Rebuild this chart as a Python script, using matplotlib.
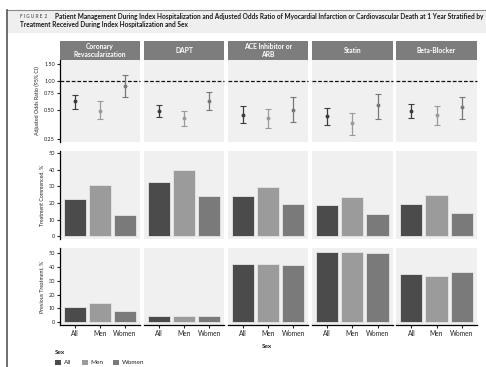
import matplotlib
matplotlib.use("Agg")
import matplotlib.pyplot as plt
from matplotlib.patches import Rectangle
from matplotlib.lines import Line2D

plt.rcParams["font.family"] = ["Lato", "DejaVu Sans"]

# ---- data -----------------------------------------------------------------
treatments = ["Coronary\nRevascularization", "DAPT", "ACE Inhibitor or\nARB",
              "Statin", "Beta-Blocker"]
sexes = ["All", "Men", "Women"]

# adjusted odds ratio (95% CI) of MI or CV death at 1 year
or_est = [[0.61, 0.49, 0.89], [0.49, 0.41, 0.62], [0.44, 0.41, 0.50],
          [0.43, 0.36, 0.56], [0.48, 0.44, 0.53]]
or_lo = [[0.51, 0.40, 0.68], [0.42, 0.34, 0.50], [0.36, 0.32, 0.37],
         [0.35, 0.27, 0.40], [0.41, 0.35, 0.40]]
or_hi = [[0.72, 0.62, 1.15], [0.56, 0.49, 0.76], [0.54, 0.51, 0.68],
         [0.52, 0.46, 0.73], [0.57, 0.55, 0.68]]

# treatment commenced during index hospitalization, %
commenced = [[22.4, 30.8, 12.8], [32.6, 39.8, 24.4], [24.4, 29.6, 19.2],
             [18.8, 23.4, 13.6], [19.6, 24.8, 14.0]]
# previous treatment, %
previous = [[11.0, 13.6, 8.4], [4.8, 4.7, 4.3], [41.6, 41.9, 41.0],
            [50.3, 50.7, 49.8], [34.5, 33.3, 35.9]]

or_ticks = [0.25, 0.50, 0.75, 1.00, 1.50]
pct_ticks = [0, 10, 20, 30, 40, 50]

# ---- styling --------------------------------------------------------------
bar_colors = ["#4b4b4b", "#9b9b9b", "#7a7a7a"]
err_colors = ["#3c3c3c", "#9a9a9a", "#787878"]
panel_bg = "#f0f0f0"
strip_bg = "#7d7d7d"

W, H = 486, 367
fig = plt.figure(figsize=(W / 100, H / 100), dpi=100)
fig.patch.set_facecolor("white")


def px_axes(x0, y0, x1, y1, **kw):
    return fig.add_axes([x0 / W, 1 - y1 / H, (x1 - x0) / W, (y1 - y0) / H], **kw)


# title band and left frame line
fig.add_artist(Rectangle((7 / W, 1 - 33 / H), (W - 7) / W, 23 / H,
                         transform=fig.transFigure, facecolor="#efefef",
                         edgecolor="none"))
fig.add_artist(Line2D([7 / W, 1], [1 - 10 / H, 1 - 10 / H],
                      transform=fig.transFigure, color="#8a8a8a", lw=0.8))
fig.add_artist(Line2D([7 / W, 7 / W], [0, 1 - 10 / H],
                      transform=fig.transFigure, color="#555555", lw=1.2))
fig.text(20 / W, 1 - 17 / H, "F I G U R E  2", fontsize=3.4, color="#666666",
         va="center", ha="left", fontweight="bold")
fig.text(55 / W, 1 - 17 / H,
         "Patient Management During Index Hospitalization and Adjusted Odds Ratio of "
         "Myocardial Infarction or Cardiovascular Death at 1 Year Stratified by",
         fontsize=4.7, color="#1a1a1a", va="center", ha="left", fontweight="bold")
fig.text(20 / W, 1 - 24.5 / H,
         "Treatment Received During Index Hospitalization and Sex",
         fontsize=4.7, color="#1a1a1a", va="center", ha="left", fontweight="bold")

col_left = 59.5
col_w = 80.5
col_step = 84.2
rows = [(60, 142), (151.5, 239), (248, 325)]
xpos = [0, 1, 2]

for i, name in enumerate(treatments):
    x0 = col_left + i * col_step
    x1 = x0 + col_w

    # strip header
    sax = px_axes(x0, 41, x1, 60)
    sax.set_facecolor(strip_bg)
    sax.set_xticks([]); sax.set_yticks([])
    for s in sax.spines.values():
        s.set_visible(False)
    sax.text(0.5, 0.5, name, ha="center", va="center", color="white",
             fontsize=4.9, fontweight="bold", linespacing=1.1,
             transform=sax.transAxes)

    # odds ratios
    ax = px_axes(x0, rows[0][0], x1, rows[0][1])
    ax.set_facecolor(panel_bg)
    ax.set_yscale("log")
    ax.set_ylim(0.23, 1.65)
    ax.set_xlim(-0.6, 2.6)
    for j in range(3):
        est = or_est[i][j]
        ax.errorbar(xpos[j], est,
                    yerr=[[est - or_lo[i][j]], [or_hi[i][j] - est]],
                    fmt="o", ms=1.8, color=err_colors[j], ecolor=err_colors[j],
                    elinewidth=0.9, capsize=2.0, capthick=0.8)
    ax.axhline(1.0, color="#111111", lw=0.9, ls=(0, (3, 1.5)), zorder=0.5,
               clip_on=False)
    ax.set_xticks([])
    for s in ["top", "right", "bottom"]:
        ax.spines[s].set_visible(False)
    if i == 0:
        ax.set_yticks(or_ticks)
        ax.set_yticklabels([f"{t:.2f}" for t in or_ticks])
        ax.yaxis.set_minor_locator(matplotlib.ticker.NullLocator())
        ax.tick_params(axis="y", labelsize=4, length=2, width=0.8, pad=1.2,
                       colors="#222222")
        ax.spines["left"].set_linewidth(0.9)
        ax.set_ylabel("Adjusted Odds Ratio (95% CI)", fontsize=3.8, labelpad=3,
                      color="#222222")
    else:
        ax.set_yticks([])
        ax.yaxis.set_minor_locator(matplotlib.ticker.NullLocator())
        ax.spines["left"].set_visible(False)

    # percentages
    for r, (vals, ylim, ylab) in enumerate([
            (commenced, (-1.5, 51), "Treatment Commenced, %"),
            (previous, (-1.9, 53.4), "Previous Treatment, %")], start=1):
        ax = px_axes(x0, rows[r][0], x1, rows[r][1])
        ax.set_facecolor(panel_bg)
        ax.bar(xpos, vals[i], width=0.88, color=bar_colors,
               edgecolor="#e6e6e6", linewidth=0.6)
        ax.set_xlim(-0.6, 2.6)
        ax.set_ylim(*ylim)
        for s in ["top", "right"]:
            ax.spines[s].set_visible(False)
        if r == 2:
            ax.set_xticks(xpos)
            ax.set_xticklabels(sexes)
            ax.tick_params(axis="x", labelsize=4.8, length=1.8, width=0.8, pad=2,
                           colors="#222222")
            ax.spines["bottom"].set_linewidth(0.9)
        else:
            ax.set_xticks([])
            ax.spines["bottom"].set_visible(False)
        if i == 0:
            ax.set_yticks(pct_ticks)
            ax.tick_params(axis="y", labelsize=4, length=2, width=0.8, pad=1.2,
                           colors="#222222")
            ax.spines["left"].set_linewidth(0.9)
            ax.set_ylabel(ylab, fontsize=3.8, labelpad=3, color="#222222")
        else:
            ax.set_yticks([])
            ax.spines["left"].set_visible(False)

# x-axis title
fig.text(267 / W, 1 - 346 / H, "Sex", fontsize=4.6, ha="center", va="center",
         color="#222222", fontweight="bold")

# legend
fig.text(55 / W, 1 - 352.7 / H, "Sex", fontsize=4.6, ha="left", va="center",
         color="#222222", fontweight="bold")
leg_x = [(55, 63.5), (82, 90), (113, 122)]
for (sx, tx), lab, c in zip(leg_x, sexes, bar_colors):
    fig.add_artist(Rectangle((sx / W, 1 - 365 / H), 6 / W, 5 / H,
                             transform=fig.transFigure, facecolor=c,
                             edgecolor="none"))
    fig.text(tx / W, 1 - 362.5 / H, lab, fontsize=4.6, ha="left", va="center",
             color="#222222")

fig.savefig("out.png", dpi=100, facecolor="white")
